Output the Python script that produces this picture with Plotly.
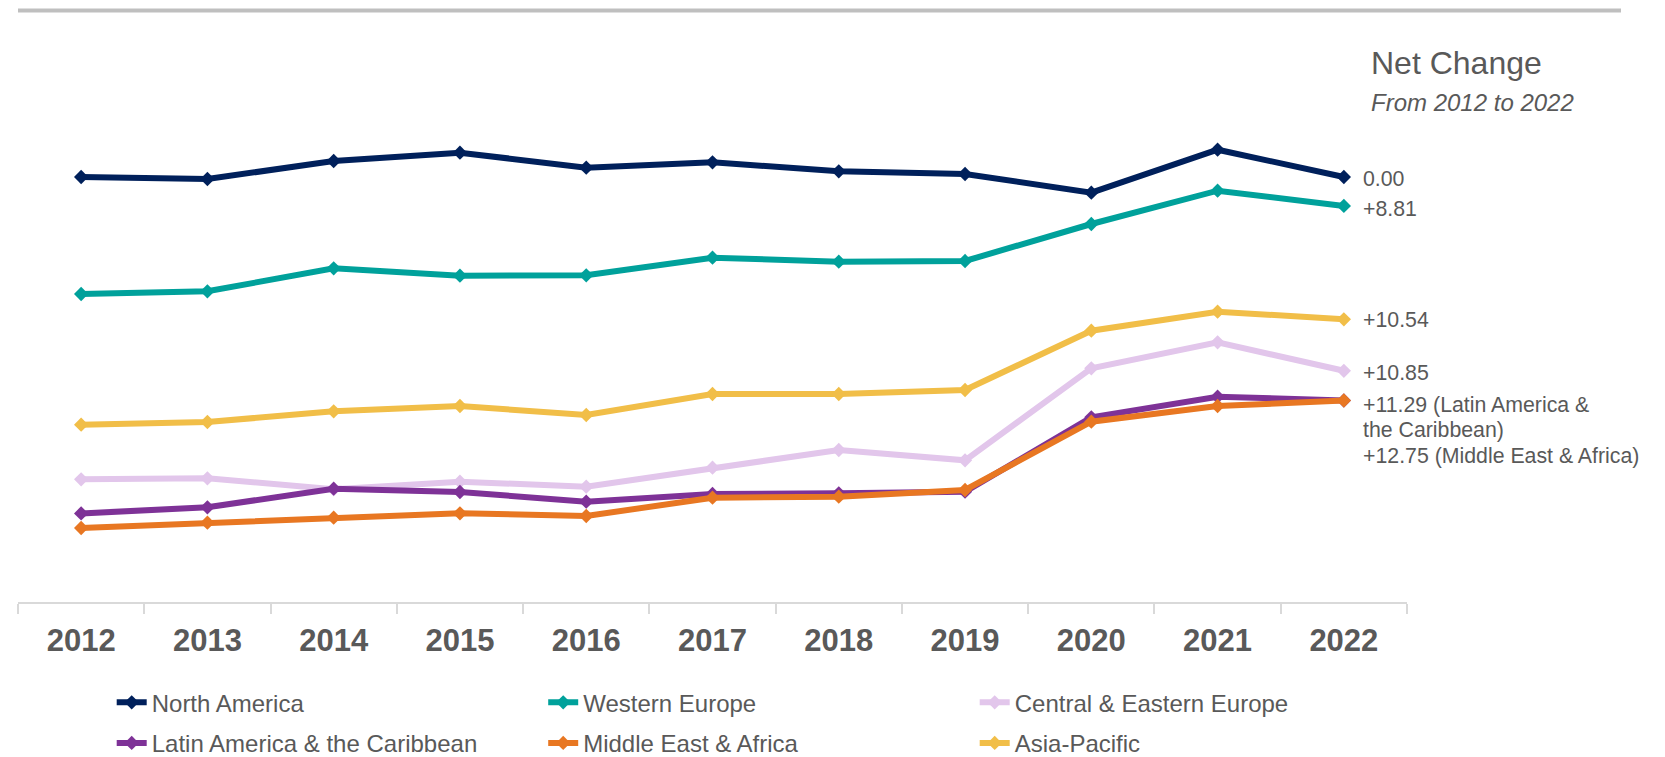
import plotly.graph_objects as go

years = ["2012", "2013", "2014", "2015", "2016", "2017", "2018", "2019", "2020", "2021", "2022"]

north_america = [62.30, 62.10, 63.90, 64.73, 63.23, 63.77, 62.87, 62.60, 60.73, 65.03, 62.30]
western_europe = [50.60, 50.87, 53.17, 52.43, 52.47, 54.23, 53.83, 53.90, 57.60, 60.93, 59.41]
central_eastern_europe = [32.07, 32.17, 31.07, 31.83, 31.33, 33.23, 35.00, 33.97, 43.17, 45.77, 42.92]
latin_america = [28.66, 29.27, 31.13, 30.80, 29.83, 30.60, 30.67, 30.83, 38.27, 40.33, 39.95]
middle_east_africa = [27.20, 27.73, 28.23, 28.67, 28.40, 30.23, 30.33, 31.00, 37.83, 39.40, 39.95]
asia_pacific = [37.53, 37.80, 38.87, 39.40, 38.50, 40.60, 40.60, 41.00, 46.93, 48.83, 48.07]

series_names = ["North America", "Western Europe", "Central & Eastern Europe",
                "Latin America & the Caribbean", "Middle East & Africa", "Asia-Pacific"]
series_values = [north_america, western_europe, central_eastern_europe,
                 latin_america, middle_east_africa, asia_pacific]
series_colors = ["#00205B", "#00A19B", "#E2C6EB", "#7E3297", "#E87722", "#F1BE48"]
series_legend = ["legend", "legend", "legend", "legend2", "legend2", "legend2"]

net_change_title = "Net Change"
net_change_subtitle = "From 2012 to 2022"
net_change_labels = ["0.00", "+8.81", "+10.54", "+10.85", "+11.29 (Latin America &",
                     "the Caribbean)", "+12.75 (Middle East & Africa)"]
net_change_label_px = [179, 209, 320, 372.7, 405, 430, 455.7]

FONT = "Arial, Liberation Sans, sans-serif"
GREY = "#595959"

W, H = 1665, 757
L, R, T, B = 18, 258, 20, 155
plot_w = W - L - R
plot_h = H - T - B


def px_x(px):
    return (px - L) / plot_w


def px_y(py):
    return (H - B - py) / plot_h


fig = go.Figure()
for name, vals, col, lg in zip(series_names, series_values, series_colors, series_legend):
    fig.add_trace(go.Scatter(
        x=years, y=vals, name=name, mode="lines+markers",
        line=dict(color=col, width=6),
        marker=dict(symbol="diamond", size=11, color=col),
        legend=lg,
    ))

annotations = [
    dict(text=net_change_title, x=px_x(1369), y=px_y(63.3), xref="paper", yref="paper",
         xanchor="left", yanchor="middle", showarrow=False,
         font=dict(family=FONT, size=32, color=GREY)),
    dict(text="<i>" + net_change_subtitle + "</i>", x=px_x(1369), y=px_y(102.7),
         xref="paper", yref="paper", xanchor="left", yanchor="middle", showarrow=False,
         font=dict(family=FONT, size=24, color=GREY)),
]
for lab, py in zip(net_change_labels, net_change_label_px):
    annotations.append(dict(text=lab, x=px_x(1361), y=px_y(py), xref="paper", yref="paper",
                            xanchor="left", yanchor="middle", showarrow=False,
                            font=dict(family=FONT, size=21.3, color=GREY)))

legend_common = dict(orientation="h", entrywidth=386.5, entrywidthmode="pixels",
                     xref="container", yref="container", xanchor="left", yanchor="middle",
                     font=dict(family=FONT, size=24, color=GREY),
                     bgcolor="rgba(0,0,0,0)", borderwidth=0, itemclick=False)

fig.update_layout(
    width=W, height=H,
    margin=dict(l=L, r=R, t=T, b=B),
    paper_bgcolor="white", plot_bgcolor="white",
    font=dict(family=FONT, color=GREY),
    showlegend=True,
    legend=dict(x=111.7 / W, y=1 - 702.7 / H, **legend_common),
    legend2=dict(x=111.7 / W, y=1 - 743.3 / H, **legend_common),
    xaxis=dict(type="category", range=[-0.5, 10.5], showgrid=False, zeroline=False,
               showline=True, linecolor="#D9D9D9", linewidth=1.5,
               ticks="outside", tickson="boundaries", ticklen=10, tickcolor="#D9D9D9",
               tickwidth=1.5, ticklabelstandoff=10,
               tickfont=dict(family=FONT, size=31, color=GREY, weight="bold")),
    yaxis=dict(visible=False, range=[(800 - (H - B)) / 10, (800 - T) / 10],
               showgrid=False, zeroline=False),
    annotations=annotations,
    shapes=[dict(type="line", xref="paper", yref="paper", x0=px_x(18), x1=px_x(1621),
                 y0=px_y(10.5), y1=px_y(10.5), line=dict(color="#BFBFBF", width=4))],
)

fig.write_html("out.html", config={"displayModeBar": False},
               post_script="document.body.style.margin='0';document.body.style.overflow='hidden';")
